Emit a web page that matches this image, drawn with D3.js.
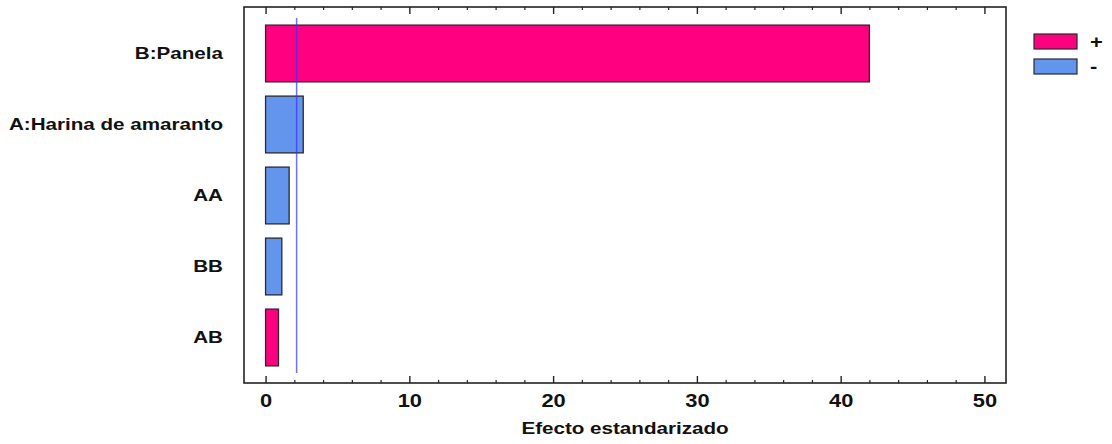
<!DOCTYPE html>
<html>
<head>
<meta charset="utf-8">
<script src="https://cdn.jsdelivr.net/npm/d3@7"></script>
<style>
  html, body { margin: 0; padding: 0; background: #fff; }
  svg { display: block; font-family: "Liberation Sans", Arial, sans-serif; font-weight: bold; }
</style>
</head>
<body>
<svg id="chart" width="1112" height="444"></svg>
<script>
// Standardized effects (Pareto chart)
const terms   = ["B:Panela", "A:Harina de amaranto", "AA", "BB", "AB"];
const effects = [42.0, 2.62, 1.64, 1.13, 0.90];
const signs   = ["+", "-", "-", "-", "+"];
const criticalValue = 2.16;
const xTicks = [0, 10, 20, 30, 40, 50];
const legendLabels = ["+", "-"];

const colors = { "+": "#ff0080", "-": "#6495ed" };
const FONT = "Liberation Sans, Arial, sans-serif";
const WIDE = 1.25;   // wide glyph rendering used for all chart text

const svg = d3.select("#chart");
const plot = { left: 244, right: 1006, top: 7, bottom: 383 };

const x = d3.scaleLinear().domain([-1.5, 51.5]).range([plot.left, plot.right]);
const y = d3.scaleBand().domain(terms).range([18, 373]).paddingInner(0.2).paddingOuter(0.1);

function styleText(sel, size) {
  sel.attr("font-size", size).attr("font-weight", "bold").attr("fill", "#111")
     .attr("font-family", FONT);
}

// bars
svg.append("g").selectAll("rect")
  .data(terms)
  .join("rect")
  .attr("x", x(0))
  .attr("y", (d) => y(d))
  .attr("width", (d, i) => x(effects[i]) - x(0))
  .attr("height", y.bandwidth())
  .attr("fill", (d, i) => colors[signs[i]])
  .attr("stroke", "#2a2a2a")
  .attr("stroke-width", 1.3);

// critical value reference line
svg.append("line")
  .attr("x1", x(criticalValue)).attr("x2", x(criticalValue))
  .attr("y1", y.range()[0]).attr("y2", y.range()[1])
  .attr("stroke", "#3333ff").attr("stroke-opacity", 0.7).attr("stroke-width", 1.5);

// frame
svg.append("rect")
  .attr("x", plot.left).attr("y", plot.top)
  .attr("width", plot.right - plot.left).attr("height", plot.bottom - plot.top)
  .attr("fill", "none").attr("stroke", "#222").attr("stroke-width", 1.6);

// ticks: majors every 10, minors every 2, on bottom and top, pointing inward
const minor = d3.range(0, 51, 2).filter(v => v % 10 !== 0);
const gB = svg.append("g").attr("transform", `translate(0,${plot.bottom})`)
  .call(d3.axisBottom(x).tickValues(xTicks).tickFormat(d3.format("d")).tickSize(-7).tickPadding(12));
gB.select(".domain").remove();
gB.selectAll("line").attr("stroke", "#222").attr("stroke-width", 1.4);
gB.selectAll("text").call(styleText, 17.5).attr("transform", `scale(${WIDE},1)`);

const gBm = svg.append("g").attr("transform", `translate(0,${plot.bottom})`)
  .call(d3.axisBottom(x).tickValues(minor).tickFormat("").tickSize(-3));
gBm.select(".domain").remove();
gBm.selectAll("line").attr("stroke", "#222").attr("stroke-width", 1.2);

const gT = svg.append("g").attr("transform", `translate(0,${plot.top})`)
  .call(d3.axisTop(x).tickValues(xTicks).tickFormat("").tickSize(-7));
gT.select(".domain").remove();
gT.selectAll("line").attr("stroke", "#222").attr("stroke-width", 1.4);

const gTm = svg.append("g").attr("transform", `translate(0,${plot.top})`)
  .call(d3.axisTop(x).tickValues(minor).tickFormat("").tickSize(-3));
gTm.select(".domain").remove();
gTm.selectAll("line").attr("stroke", "#222").attr("stroke-width", 1.2);

// category labels
const gL = svg.append("g").attr("transform", `translate(${plot.left},0)`)
  .call(d3.axisLeft(y).tickSize(0).tickPadding(21 / WIDE));
gL.select(".domain").remove();
gL.selectAll("text").call(styleText, 16.5).attr("transform", `scale(${WIDE},1)`);

// axis title
svg.append("text")
  .attr("transform", `translate(${(plot.left + plot.right) / 2},434) scale(${WIDE},1)`)
  .attr("text-anchor", "middle")
  .call(styleText, 16.5)
  .text("Efecto estandarizado");

// legend
const lg = svg.append("g").attr("transform", "translate(1034,34)");
legendLabels.forEach((lab, i) => {
  lg.append("rect").attr("x", 0).attr("y", i * 25).attr("width", 43).attr("height", 15)
    .attr("fill", colors[lab]).attr("stroke", "#2a2a2a").attr("stroke-width", 1.2);
  lg.append("text")
    .attr("transform", `translate(56,${i * 25 + 14}) scale(${WIDE},1)`)
    .call(styleText, 17.5)
    .text(lab);
});
</script>
</body>
</html>
